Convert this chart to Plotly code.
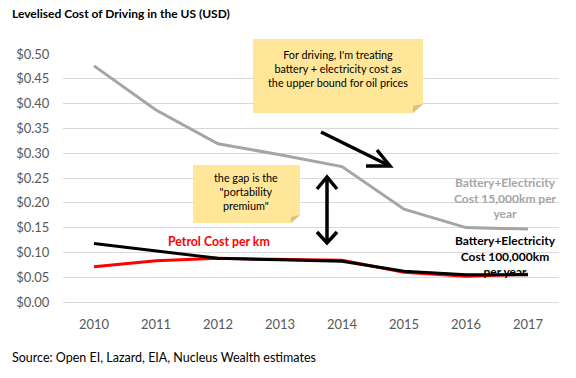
import plotly.graph_objects as go

years = ["2010", "2011", "2012", "2013", "2014", "2015", "2016", "2017"]
battery_15k = [0.476, 0.387, 0.319, 0.297, 0.273, 0.187, 0.150, 0.147]
battery_100k = [0.118, 0.103, 0.088, 0.085, 0.082, 0.062, 0.055, 0.055]
petrol = [0.071, 0.083, 0.088, 0.086, 0.084, 0.060, 0.052, 0.056]
y_ticks = [0.0, 0.05, 0.10, 0.15, 0.20, 0.25, 0.30, 0.35, 0.40, 0.45, 0.50]

W, H = 576, 378
L, R, T, B = 63, 559, 54, 302


def px(x):
    return (x - L) / (R - L)


def py(y):
    return (B - y) / (B - T)


fig = go.Figure()
fig.add_trace(go.Scatter(x=years, y=battery_15k, mode="lines",
                         line=dict(color="#A5A5A5", width=3), hoverinfo="skip"))
fig.add_trace(go.Scatter(x=years, y=petrol, mode="lines",
                         line=dict(color="#FF0000", width=3), hoverinfo="skip"))
fig.add_trace(go.Scatter(x=years, y=battery_100k, mode="lines",
                         line=dict(color="#000000", width=3), hoverinfo="skip"))

shapes = []
# sticky note 1
shapes.append(dict(type="path", xref="paper", yref="paper",
                   path=f"M {px(253)} {py(39)} L {px(423)} {py(39)} L {px(423)} {py(104)} "
                        f"L {px(413)} {py(113)} L {px(253)} {py(113)} Z",
                   fillcolor="#FFE699", line=dict(width=0), layer="above"))
shapes.append(dict(type="path", xref="paper", yref="paper",
                   path=f"M {px(423)} {py(104)} L {px(413)} {py(106)} L {px(413)} {py(113)} Z",
                   fillcolor="#D9C27A", line=dict(width=0), layer="above"))
# sticky note 2
shapes.append(dict(type="path", xref="paper", yref="paper",
                   path=f"M {px(193)} {py(165)} L {px(300)} {py(165)} L {px(300)} {py(215)} "
                        f"L {px(291)} {py(223)} L {px(193)} {py(223)} Z",
                   fillcolor="#FFE699", line=dict(width=0), layer="above"))
shapes.append(dict(type="path", xref="paper", yref="paper",
                   path=f"M {px(300)} {py(215)} L {px(291)} {py(217)} L {px(291)} {py(223)} Z",
                   fillcolor="#D9C27A", line=dict(width=0), layer="above"))
# diagonal arrow
arrow_line = dict(color="black", width=3.5)
shapes.append(dict(type="path", xref="paper", yref="paper",
                   path=f"M {px(321)} {py(132)} L {px(390)} {py(166)}",
                   line=arrow_line, layer="above"))
shapes.append(dict(type="path", xref="paper", yref="paper",
                   path=f"M {px(377)} {py(150)} L {px(390)} {py(166)} L {px(366)} {py(166)}",
                   line=arrow_line, layer="above"))
# vertical double arrow
shapes.append(dict(type="path", xref="paper", yref="paper",
                   path=f"M {px(327)} {py(177)} L {px(327)} {py(243)}",
                   line=arrow_line, layer="above"))
shapes.append(dict(type="path", xref="paper", yref="paper",
                   path=f"M {px(317)} {py(189)} L {px(327)} {py(177)} L {px(337)} {py(189)}",
                   line=arrow_line, layer="above"))
shapes.append(dict(type="path", xref="paper", yref="paper",
                   path=f"M {px(317)} {py(232)} L {px(327)} {py(243)} L {px(337)} {py(232)}",
                   line=arrow_line, layer="above"))


def note(text, x, y, size=12, color="#000000", anchor="center"):
    return dict(text=text, x=px(x), y=py(y), xref="paper", yref="paper",
                xanchor=anchor, yanchor="middle", showarrow=False, align=anchor,
                font=dict(family="Lato", size=size, color=color))


annotations = [
    note("<b>Levelised Cost of Driving in the US (USD)</b>", 10, 14, 12, anchor="left"),
    note("Source: Open EI, Lazard, EIA, Nucleus Wealth estimates", 10, 357, 12.5, anchor="left"),
    note("<b>Petrol Cost per km</b>", 219, 241, 12.3, "#FF0000"),
    note("<b>Battery+Electricity<br>Cost 15,000km per<br>year</b>", 505, 198, 12, "#A5A5A5"),
    note("<b>Battery+Electricity<br>Cost 100,000km<br>per year</b>", 505, 256, 12, "#000000"),
    note("For driving, I'm treating<br>battery + electricity cost as<br>the upper bound for oil prices",
         338, 69, 10.8),
    note("the gap is the<br>\"portability<br>premium\"", 246, 191, 10.8),
]

fig.update_layout(
    width=W, height=H,
    margin=dict(l=L, r=W - R, t=T, b=H - B, autoexpand=False),
    paper_bgcolor="white", plot_bgcolor="white",
    showlegend=False,
    shapes=shapes,
    annotations=annotations,
    xaxis=dict(type="category", showgrid=False, zeroline=False, showline=False,
               automargin=False,
               ticks="outside", ticklen=10, tickcolor="rgba(0,0,0,0)",
               tickfont=dict(family="Lato", size=13, color="#595959"),
               range=[-0.5, len(years) - 0.5]),
    yaxis=dict(range=[0, 0.5], tickvals=y_ticks, automargin=False,
               ticktext=[f"${v:.2f}" for v in y_ticks],
               showgrid=True, gridcolor="#D9D9D9", gridwidth=1,
               zeroline=True, zerolinecolor="#D9D9D9", zerolinewidth=1,
               showline=False, ticks="outside", ticklen=10, tickcolor="rgba(0,0,0,0)",
               tickfont=dict(family="Lato", size=13, color="#595959")),
)

fig.write_html("out.html", config={"displayModeBar": False},
               post_script="document.body.style.margin='0';")
